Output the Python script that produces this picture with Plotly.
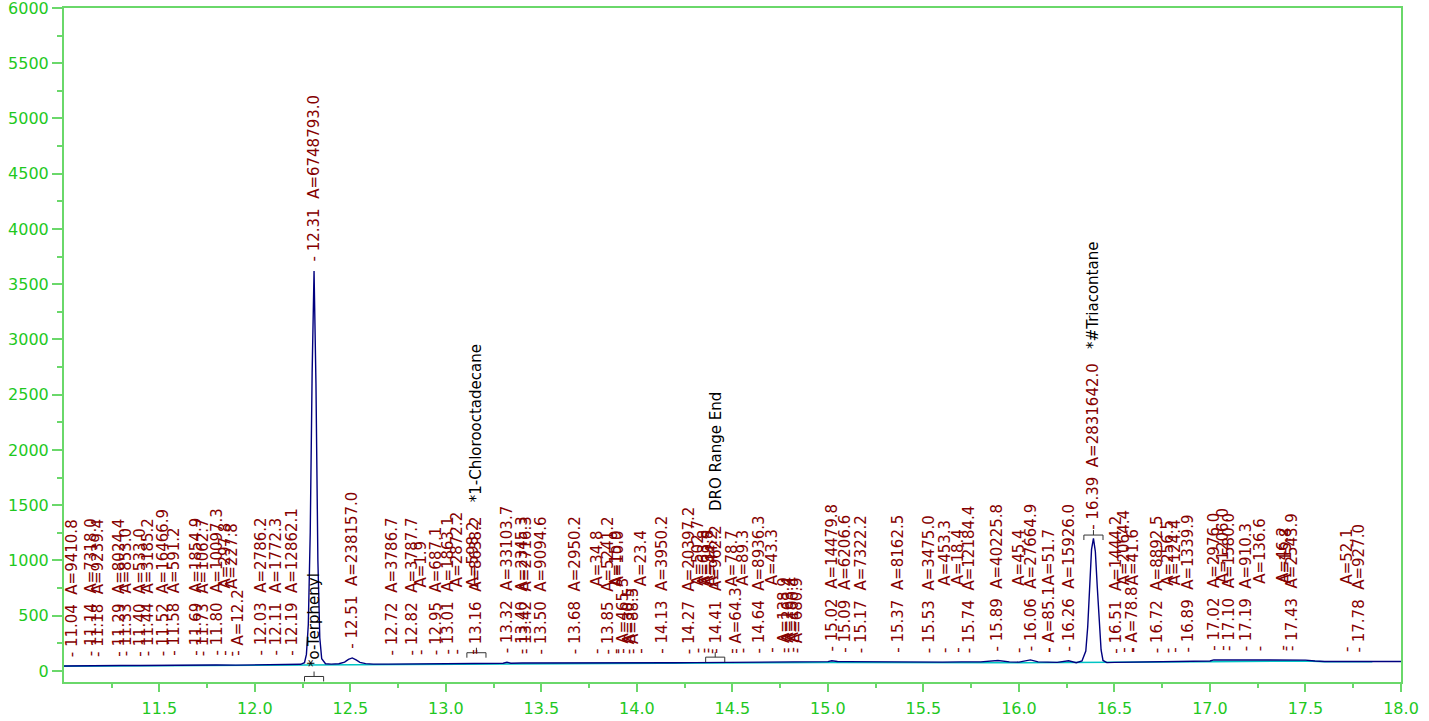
import numpy as np
import plotly.graph_objects as go

# ---------------- data ----------------
time_min = [11.00, 11.10, 11.20, 11.30, 11.40, 11.50, 11.60, 11.70, 11.80, 11.90,
            12.00, 12.10, 12.20, 12.24, 12.26, 12.27, 12.28, 12.29, 12.30, 12.31,
            12.32, 12.33, 12.34, 12.35, 12.37, 12.40, 12.44, 12.47, 12.49, 12.51,
            12.53, 12.55, 12.58, 12.62, 12.70, 12.80, 12.90, 13.00, 13.10, 13.20,
            13.30, 13.32, 13.34, 13.40, 13.50, 13.60, 13.70, 13.80, 13.90, 14.00,
            14.10, 14.20, 14.30, 14.40, 14.50, 14.60, 14.70, 14.80, 14.90, 15.00,
            15.02, 15.05, 15.10, 15.20, 15.30, 15.40, 15.50, 15.60, 15.70, 15.80,
            15.89, 15.95, 16.00, 16.06, 16.10, 16.20, 16.26, 16.30, 16.33, 16.35,
            16.36, 16.37, 16.38, 16.39, 16.40, 16.41, 16.42, 16.43, 16.44, 16.46,
            16.50, 16.60, 16.70, 16.80, 16.90, 17.00, 17.02, 17.10, 17.20, 17.30,
            17.40, 17.50, 17.55, 17.60, 17.70, 17.80, 17.90, 18.00]
signal = [45, 48, 47, 50, 50, 52, 52, 53, 54, 53,
          55, 56, 58, 60, 75, 150, 420, 1250, 2700, 3620,
          2600, 1000, 300, 110, 65, 62, 65, 80, 105, 118,
          100, 78, 66, 62, 62, 63, 64, 65, 66, 67,
          70, 78, 70, 72, 72, 70, 68, 70, 70, 72,
          72, 74, 75, 76, 77, 78, 80, 80, 82, 84,
          92, 86, 84, 82, 80, 80, 80, 80, 82, 82,
          95, 82, 80, 100, 82, 78, 92, 75, 90, 180,
          400, 760, 1100, 1200, 1080, 760, 420, 190, 95, 75,
          78, 80, 82, 84, 86, 90, 100, 100, 98, 98,
          100, 98, 90, 86, 86, 86, 86, 86]

base_time = [11.00, 12.00, 12.50, 13.00, 14.00, 15.00, 16.00, 16.50, 17.00, 17.50, 17.60, 17.85]
base_signal = [42, 50, 58, 62, 68, 76, 74, 76, 84, 90, 84, 84]

peak_rt = [11.04, 11.14, 11.18, 11.29, 11.33, 11.40, 11.44, 11.52, 11.58, 11.69,
           11.73, 11.80, 11.84, 11.88, 11.91, 12.03, 12.11, 12.19, 12.31, 12.51,
           12.72, 12.82, 12.87, 12.95, 13.01, 13.06, 13.14, 13.16, 13.32, 13.40,
           13.42, 13.50, 13.68, 13.79, 13.85, 13.89, 13.90, 13.93, 13.96, 13.98,
           14.02, 14.13, 14.27, 14.32, 14.35, 14.37, 14.39, 14.41, 14.50, 14.52,
           14.56, 14.64, 14.71, 14.77, 14.79, 14.82, 14.84, 15.02, 15.09, 15.17,
           15.37, 15.53, 15.61, 15.68, 15.74, 15.89, 16.00, 16.06, 16.16, 16.16,
           16.26, 16.39, 16.51, 16.55, 16.59, 16.60, 16.72, 16.78, 16.82, 16.89,
           17.02, 17.07, 17.10, 17.19, 17.26, 17.38, 17.40, 17.43, 17.72, 17.78]
peak_area = [9410.8, 7318.0, 9239.4, 8024.4, 853.0, 533.0, 3185.2, 16466.9, 591.2, 1854.9,
             1062.7, 10097.3, 297.8, 227.8, 12.2, 2786.2, 1772.3, 12862.1, 6748793.0, 238157.0,
             3786.7, 3787.7, 1.9, 687.1, 1863.1, 2872.2, 598.2, 8638.2, 33103.7, 2345.3,
             2716.3, 9094.6, 2950.2, 34.8, 5241.2, 15.9, 10.0, 465.3, 30.5, 88.5,
             23.4, 3950.2, 20397.2, 502.7, 63.8, 39.8, 44.2, 962.2, 78.7, 64.3,
             89.3, 8936.3, 43.3, 138.9, 263.4, 100.4, 680.9, 14479.8, 6206.6, 7322.2,
             8162.5, 3475.0, 453.3, 18.4, 12184.4, 40225.8, 45.4, 27664.9, 85.1, 51.7,
             15926.0, 2831642.0, 1444.2, 2064.4, 78.8, 41.6, 8892.5, 256.5, 124.4, 1339.9,
             2976.0, 1206.0, 1580.0, 910.3, 136.6, 46.2, 15.8, 2543.9, 52.1, 927.0]
# label layout used by the data system: full = "RT  A=", gap = RT hidden, low = area only, at the bottom
peak_label = ["full", "full", "full", "full", "full", "full", "full", "full", "full", "full",
              "full", "full", "gap", "gap", "low", "full", "full", "full", "full", "full",
              "full", "full", "gap", "full", "full", "gap", "gap", "full", "full", "full",
              "full", "full", "full", "gap", "full", "gap", "gap", "low", "low", "low",
              "gap", "full", "full", "gap", "gap", "gap", "gap", "full", "gap", "low",
              "gap", "full", "gap", "low", "low", "low", "low", "full", "full", "full",
              "full", "full", "gap", "gap", "full", "full", "gap", "full", "low", "gap",
              "full", "full", "full", "gap", "low", "gap", "full", "gap", "gap", "full",
              "full", "gap", "full", "full", "gap", "gap", "gap", "full", "gap", "full"]

compound_rt = [12.31, 13.16, 14.41, 16.39]
compound_name = ["*o-Terphenyl", "*1-Chlorooctadecane", "DRO Range End", "*#Triacontane"]
compound_level = [-50, 165, 125, 1230]
compound_name_place = ["base", "tail", "tail", "tail"]

# ---------------- figure ----------------
RED = "#850000"
GREEN_TXT = "#1fc81f"
GREEN_LINE = "#6ad86a"
NB = "&nbsp;"
FONT = "DejaVu Sans"

fig = go.Figure()
fig.add_trace(go.Scatter(x=base_time, y=base_signal, mode="lines",
                         line=dict(color="#00c4c4", width=1.5), hoverinfo="skip"))
fig.add_trace(go.Scatter(x=time_min, y=signal, mode="lines",
                         line=dict(color="#00007f", width=1.4), hoverinfo="skip"))

# expected-window brackets of the identified compounds
hw, tick = 0.05, 45
bx, by = [], []
for rt, lvl in zip(compound_rt, compound_level):
    bx += [rt - hw, rt - hw, rt + hw, rt + hw, None, rt, rt, None]
    by += [lvl - tick, lvl, lvl, lvl - tick, None, lvl, lvl + tick, None]
fig.add_trace(go.Scatter(x=bx, y=by, mode="lines", line=dict(color="#333333", width=1),
                         hoverinfo="skip"))

name_of = {rt: (n, p) for rt, n, p in zip(compound_rt, compound_name, compound_name_place)}

annotations = []
for rt, area, kind in zip(peak_rt, peak_area, peak_label):
    h = float(np.interp(rt, time_min, signal))
    if kind == "full":
        txt = f"-{NB}{rt:.2f}{NB*2}A={area:.1f}"
    elif kind == "gap":
        txt = "-" + NB * 13 + f"A={area:.1f}"
    else:
        txt = f"-{NB}A={area:.1f}"
    if kind == "full" and rt in name_of and name_of[rt][1] == "tail":
        txt += NB * 3 + f"<span style='color:#000000'>{name_of[rt][0]}</span>"
    annotations.append(dict(x=rt, y=h, xref="x", yref="y", text=txt, textangle=-90,
                            showarrow=False, xanchor="center", yanchor="bottom", yshift=7,
                            font=dict(family=FONT, size=15, color=RED)))

for rt, n, p in zip(compound_rt, compound_name, compound_name_place):
    if p == "base":
        annotations.append(dict(x=rt, y=0, xref="x", yref="y", text=n, textangle=-90,
                                showarrow=False, xanchor="center", yanchor="bottom", yshift=2,
                                font=dict(family=FONT, size=15, color="#000000")))

fig.update_layout(
    width=1429, height=721,
    margin=dict(l=64, r=28, t=8, b=39, autoexpand=False),
    paper_bgcolor="white", plot_bgcolor="white",
    showlegend=False,
    annotations=annotations,
    xaxis=dict(range=[11.001, 18.0], tick0=11.0, dtick=0.5, tickformat=".1f",
               automargin=False, ticklabeloverflow="allow",
               showgrid=False, zeroline=False, showline=True, mirror=True,
               linecolor=GREEN_LINE, linewidth=2,
               ticks="outside", ticklen=8, tickwidth=2, tickcolor=GREEN_LINE,
               ticklabelstandoff=3,
               minor=dict(dtick=0.25, tick0=11.0, ticks="outside", ticklen=4,
                          tickwidth=1.5, tickcolor=GREEN_LINE, showgrid=False),
               tickfont=dict(family=FONT, size=16, color=GREEN_TXT)),
    yaxis=dict(range=[-100, 6000], tick0=0, dtick=500,
               automargin=False, ticklabeloverflow="allow",
               showgrid=False, zeroline=False, showline=True, mirror=True,
               linecolor=GREEN_LINE, linewidth=2,
               ticks="outside", ticklen=10, tickwidth=2, tickcolor=GREEN_LINE,
               minor=dict(dtick=250, tick0=0, ticks="outside", ticklen=5,
                          tickwidth=1.5, tickcolor=GREEN_LINE, showgrid=False),
               tickfont=dict(family=FONT, size=16, color=GREEN_TXT)),
)

fig.write_html("out.html", config={"displayModeBar": False},
               post_script="document.body.style.margin='0';document.body.style.overflow='hidden';")
